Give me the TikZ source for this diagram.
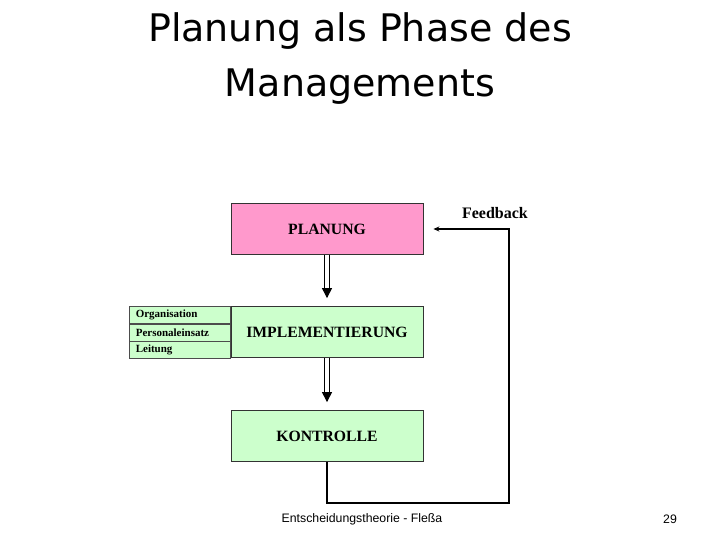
\documentclass[tikz,border=0pt]{standalone}
\usepackage{fontspec}
\setmainfont{Liberation Serif}
\newfontfamily\slidefont{DejaVu Sans}
\newfontfamily\footfont{Liberation Sans}
\usetikzlibrary{arrows.meta, positioning}
\definecolor{planpink}{RGB}{255,153,204}
\definecolor{phasegreen}{RGB}{204,255,204}

\begin{document}
\begin{tikzpicture}[
    x=1pt, y=-1pt,
    phase/.style={rectangle, draw=black!80, fill=#1, line width=0.8pt,
                  minimum width=192pt, minimum height=51pt, inner sep=0pt,
                  font=\fontsize{15.7}{18}\selectfont\bfseries},
    task/.style={rectangle, draw=black!70, fill=phasegreen, line width=0.6pt,
                 minimum width=101pt, minimum height=17pt, inner sep=0pt,
                 text width=88pt, align=left, font=\fontsize{11}{12}\selectfont\bfseries},
    shaft/.style={line width=1pt},
    tip/.style={-{Triangle[length=10pt, width=10pt]}, line width=1pt},
    loopline/.style={-{Stealth[length=6pt, width=5pt]}, line width=1.8pt}
]
\useasboundingbox (0,0) rectangle (720,540);
% title
\node[font=\slidefont\fontsize{38}{55}\selectfont, align=center] (title) at (360,59)
    {Planung als Phase des\\Managements};
% phases
\node[phase=planpink] (plan) at (327,229) {PLANUNG};
\node[phase=phasegreen] (impl) at (327,332) {IMPLEMENTIERUNG};
\node[phase=phasegreen] (ctrl) at (327,436) {KONTROLLE};
% tasks beside implementation
\node[task, anchor=north east] (org) at (impl.north west) {Organisation};
\node[task, below=0pt of org] (pers) {Personaleinsatz};
\node[task, below=0pt of pers] (lead) {Leitung};
% double arrows between phases
\foreach \a/\b in {plan/impl, impl/ctrl} {
  \draw[shaft] ([xshift=-2.5pt]\a.south) -- ([xshift=-2.5pt,yshift=16pt]\b.north);
  \draw[shaft] ([xshift=2.5pt]\a.south) -- ([xshift=2.5pt,yshift=16pt]\b.north);
  \draw[tip] ([yshift=9pt]\b.north) -- ([yshift=8pt]\b.north);
}
% feedback loop
\coordinate (fb) at (509,503);
\draw[loopline] (ctrl.south) -- (ctrl.south |- fb) -- (fb) -- (fb |- plan.east)
    -- ([xshift=10pt]plan.east);
\node[font=\fontsize{16}{18}\selectfont\bfseries] (fblabel) at (495,213) {Feedback};
% footer
\node[font=\footfont\fontsize{12.3}{14}\selectfont] (foot) at (362,519) {Entscheidungstheorie - Fleßa};
\node[font=\footfont\fontsize{12.3}{14}\selectfont] (page) at (670,519) {29};
\end{tikzpicture}
\end{document}
